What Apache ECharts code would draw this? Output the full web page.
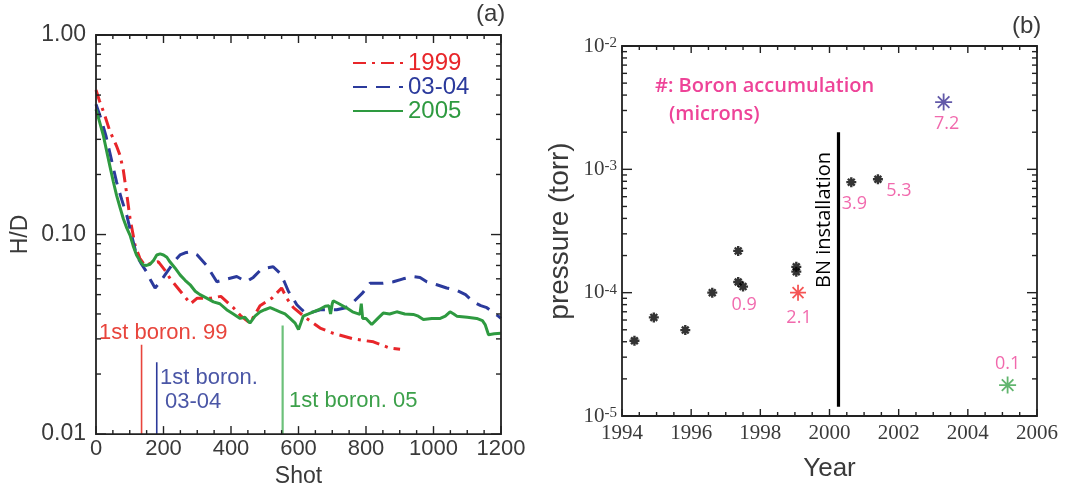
<!DOCTYPE html>
<html><head><meta charset="utf-8">
<script src="https://cdn.jsdelivr.net/npm/echarts@6/dist/echarts.min.js"></script>
<style>html,body{margin:0;padding:0;background:#fff}.c{width:1086px;height:493px}</style>
</head><body><div class="c" id="chart0"></div>
<script>
// ---------- Panel (a): H/D vs shot ----------
const shots1999 = [0,10,25,41,60,71,81,91,101,116,130,145,165,185,205,220,250,280,300,340,370,407,430,456,486,521,550,565,585,624,664,703,762,822,870,901];
const hd1999    = [0.53,0.47,0.40,0.33,0.28,0.25,0.21,0.16,0.12,0.088,0.076,0.070,0.072,0.073,0.066,0.060,0.052,0.045,0.048,0.048,0.049,0.043,0.039,0.036,0.044,0.048,0.054,0.048,0.043,0.038,0.034,0.032,0.030,0.029,0.027,0.0266];
const shots0304 = [0,15,30,45,61,76,91,105,120,135,150,162,175,190,205,219,234,249,264,279,300,328,358,390,417,446,466,486,505,525,545,558,570,583,595,610,624,644,664,690,713,740,763,790,812,850,881,910,940,960,980,1010,1039,1069,1095,1118,1140,1158,1175,1192,1200];
const hd0304    = [0.45,0.38,0.31,0.24,0.183,0.15,0.125,0.10,0.079,0.071,0.065,0.059,0.054,0.058,0.063,0.068,0.074,0.079,0.081,0.082,0.079,0.070,0.058,0.060,0.0616,0.058,0.061,0.066,0.068,0.069,0.064,0.058,0.052,0.048,0.0445,0.042,0.040,0.041,0.042,0.042,0.042,0.043,0.046,0.051,0.057,0.057,0.058,0.060,0.0616,0.061,0.058,0.056,0.054,0.0525,0.050,0.046,0.044,0.043,0.041,0.039,0.038];
const shots2005 = [0,10,22,31,41,51,61,71,81,91,101,110,120,130,140,150,160,170,180,190,200,210,219,234,249,264,279,294,308,328,348,367,387,407,427,441,456,471,486,500,516,530,545,560,575,590,600,607,614,630,644,660,679,690,695,700,703,720,743,760,782,786,790,800,817,835,851,870,891,915,940,955,970,995,1020,1035,1049,1060,1069,1100,1128,1145,1153,1163,1180,1200];
const hd2005    = [0.424,0.37,0.312,0.265,0.221,0.185,0.157,0.137,0.12,0.108,0.099,0.088,0.079,0.074,0.0703,0.070,0.071,0.074,0.079,0.080,0.079,0.077,0.073,0.068,0.0628,0.059,0.056,0.052,0.050,0.048,0.046,0.045,0.042,0.040,0.038,0.0385,0.036,0.039,0.041,0.042,0.043,0.042,0.041,0.040,0.038,0.036,0.0334,0.036,0.039,0.040,0.041,0.042,0.0437,0.044,0.040,0.045,0.0466,0.045,0.0428,0.041,0.0398,0.045,0.038,0.038,0.0354,0.038,0.0404,0.040,0.041,0.040,0.0398,0.039,0.0375,0.038,0.038,0.039,0.041,0.040,0.039,0.0385,0.038,0.037,0.0354,0.0315,0.0318,0.032];
const boronShots = [135, 180, 553];
const boronTopHD = [0.028, 0.0229, 0.035];
const seriesNames = ['1999', '03-04', '2005'];

// ---------- Panel (b): pressure vs year ----------
const blackYears = [1994.36,1994.92,1995.83,1996.61,1997.36,1997.36,1997.50,1999.04,1999.04,2000.63,2001.40];
const blackPress = [4.07e-5,6.3e-5,4.97e-5,1.0e-4,2.18e-4,1.22e-4,1.12e-4,1.62e-4,1.48e-4,7.87e-4,8.32e-4];
const blackAccum = ['','','','','','0.9','','','','3.9','5.3'];
const hlYears = [1999.09, 2003.30, 2005.15];
const hlPress = [1.0e-4, 3.51e-3, 1.78e-5];
const hlAccum = ['2.1', '7.2', '0.1'];
const bnYear = 2000.26;
const bnRange = [2.0e-3, 1.19e-5];

// ---------- styles ----------
const RED = '#e8262a', BLUE = '#2b3a9c', GREEN = '#2e9a40', PINK = '#ee4398';
const AX = '#222', TICKC = '#3a3a3a';
const FONT = 'Liberation Sans', NARROW = 'Liberation Sans Narrow', OPEN = 'Open Sans';
const labelOffsets = {'0.9':[6,23],'3.9':[3,22],'5.3':[21,12],'2.1':[1,25],'7.2':[3,22],'0.1':[0,-21]};
const hlColors = ['#f22a2a', '#3b2f92', '#3aa24a'];
const hlSizes = [16, 17, 17];
const starPath = 'path://M5,0L5,10M0,5L10,5M1.6,1.6L8.4,8.4M1.6,8.4L8.4,1.6';

function minorLog(lo, hi) { const v = []; for (let e = lo; e < hi; e++) for (let k = 2; k <= 9; k++) v.push(+(k * Math.pow(10, e)).toPrecision(3)); return v; }
function majorLog(lo, hi) { const v = []; for (let e = lo; e <= hi; e++) v.push(Math.pow(10, e)); return v; }

function xAx(grid, pos, opts) {
  return Object.assign({gridIndex: grid, type: 'value', position: pos,
    axisLine: {show: false, onZero: false}, axisTick: {show: false}, minorTick: {show: false},
    splitLine: {show: false}, minorSplitLine: {show: false}, axisLabel: {show: false}}, opts);
}
function yAx(grid, pos, lo, hi, opts) {
  return Object.assign({gridIndex: grid, type: 'log', logBase: 10, position: pos,
    min: Math.pow(10, lo), max: Math.pow(10, hi),
    axisLine: {show: false, onZero: false}, axisTick: {show: false},
    splitLine: {show: false}, axisLabel: {show: false}}, opts);
}
const lineData = (xs, ys) => xs.map((x, i) => [x, ys[i]]);

// frame + inside ticks drawn through the axes' own scales
function frameRenderer(xMin, xMax, xMajor, xMinor, lo, hi, xLen, yLen) {
  return function (params, api) {
    const yTop = Math.pow(10, hi), yBot = Math.pow(10, lo);
    const tl = api.coord([xMin, yTop]), br = api.coord([xMax, yBot]);
    const kids = [{type: 'rect', shape: {x: tl[0], y: tl[1], width: br[0] - tl[0], height: br[1] - tl[1]},
      style: {fill: 'none', stroke: AX, lineWidth: 1.8}}];
    const ln = (x1, y1, x2, y2) => kids.push({type: 'line', shape: {x1, y1, x2, y2}, style: {stroke: AX, lineWidth: 1.4}});
    const n = Math.round((xMax - xMin) / xMinor);
    for (let i = 0; i <= n; i++) {
      const v = xMin + i * xMinor;
      const px = api.coord([v, yBot])[0];
      const L = (Math.abs((v - xMin) / xMajor - Math.round((v - xMin) / xMajor)) < 1e-6) ? xLen[0] : xLen[1];
      ln(px, br[1], px, br[1] - L); ln(px, tl[1], px, tl[1] + L);
    }
    majorLog(lo, hi).forEach(v => { const py = api.coord([xMin, v])[1]; ln(tl[0], py, tl[0] + yLen[0], py); ln(br[0], py, br[0] - yLen[0], py); });
    minorLog(lo, hi).forEach(v => { const py = api.coord([xMin, v])[1]; ln(tl[0], py, tl[0] + yLen[1], py); ln(br[0], py, br[0] - yLen[1], py); });
    return {type: 'group', children: kids};
  };
}

const opt = {
  animation: false,
  grid: [
    {left: 96, top: 35, width: 405, height: 403},
    {left: 622, top: 46, width: 415, height: 370}
  ],
  xAxis: [
    xAx(0, 'bottom', {min: 0, max: 1200, interval: 200, name: 'Shot', nameLocation: 'middle', nameGap: 29,
      nameTextStyle: {fontFamily: FONT, fontSize: 23, color: TICKC},
      axisLabel: {show: true, margin: 4, fontFamily: FONT, fontSize: 22, color: TICKC, formatter: v => String(v)}}),
    xAx(1, 'bottom', {min: 1994, max: 2006, interval: 2, name: 'Year', nameLocation: 'middle', nameGap: 40,
      nameTextStyle: {fontFamily: FONT, fontSize: 26, color: TICKC},
      axisLabel: {show: true, margin: 7, fontFamily: NARROW, fontSize: 21, color: TICKC, formatter: v => String(v)}})
  ],
  yAxis: [
    yAx(0, 'left', -2, 0, {name: 'H/D', nameLocation: 'middle', nameGap: 64, nameRotate: 90,
      nameTextStyle: {fontFamily: FONT, fontSize: 23, color: TICKC},
      axisLabel: {show: true, margin: 10, fontFamily: FONT, fontSize: 23, color: TICKC, formatter: v => v.toFixed(2)}}),
    yAx(1, 'left', -5, -2, {name: 'pressure (torr)', nameLocation: 'middle', nameGap: 48, nameRotate: 90,
      nameTextStyle: {fontFamily: FONT, fontSize: 28, color: TICKC},
      axisLabel: {show: true, margin: 5, color: TICKC, formatter: v => '{b|10}{s|' + Math.round(Math.log10(v)) + '}',
        rich: {b: {fontFamily: NARROW, fontSize: 21, color: TICKC}, s: {fontFamily: NARROW, fontSize: 15, color: TICKC, verticalAlign: 'top'}}}})
  ],
  legend: {orient: 'vertical', left: 347, top: 46, itemWidth: 50, itemHeight: 14, itemGap: 0, itemStyle: {opacity: 0},
    textStyle: {fontFamily: FONT, fontSize: 24, lineHeight: 23},
    data: [{name: seriesNames[0], textStyle: {color: RED}}, {name: seriesNames[1], textStyle: {color: BLUE}}, {name: seriesNames[2], textStyle: {color: GREEN}}]},
  series: [
    {type: 'custom', xAxisIndex: 0, yAxisIndex: 0, silent: true, clip: false, z: 10,
     renderItem: frameRenderer(0, 1200, 200, 50, -2, 0, [8, 4], [10, 5]), data: [[0, 0.1]]},
    {type: 'custom', xAxisIndex: 1, yAxisIndex: 1, silent: true, clip: false, z: 10,
     renderItem: frameRenderer(1994, 2006, 2, 0.5, -5, -2, [7, 4], [10, 5]), data: [[2000, 1e-3]]},
    {name: seriesNames[0], type: 'line', xAxisIndex: 0, yAxisIndex: 0, symbol: 'none', z: 3,
     lineStyle: {color: RED, width: 3, type: [13, 6, 3, 6]}, itemStyle: {color: RED}, data: lineData(shots1999, hd1999)},
    {name: seriesNames[1], type: 'line', xAxisIndex: 0, yAxisIndex: 0, symbol: 'none', z: 3,
     lineStyle: {color: BLUE, width: 3, type: [14, 9]}, itemStyle: {color: BLUE}, data: lineData(shots0304, hd0304)},
    {name: seriesNames[2], type: 'line', xAxisIndex: 0, yAxisIndex: 0, symbol: 'none', z: 4,
     lineStyle: {color: GREEN, width: 3}, itemStyle: {color: GREEN}, data: lineData(shots2005, hd2005)},
    {type: 'line', xAxisIndex: 0, yAxisIndex: 0, symbol: 'none', silent: true, lineStyle: {color: '#e8453c', width: 1.6}, data: [[boronShots[0], boronTopHD[0]], [boronShots[0], 0.01]]},
    {type: 'line', xAxisIndex: 0, yAxisIndex: 0, symbol: 'none', silent: true, lineStyle: {color: '#2c3a9a', width: 1.6}, data: [[boronShots[1], boronTopHD[1]], [boronShots[1], 0.01]]},
    {type: 'line', xAxisIndex: 0, yAxisIndex: 0, symbol: 'none', silent: true, lineStyle: {color: '#6cc07a', width: 2.2}, data: [[boronShots[2], boronTopHD[2]], [boronShots[2], 0.01]]},
    {type: 'line', xAxisIndex: 1, yAxisIndex: 1, symbol: 'none', silent: true, lineStyle: {color: '#000', width: 3.2}, data: [[bnYear, bnRange[0]], [bnYear, bnRange[1]]]},
    {type: 'scatter', xAxisIndex: 1, yAxisIndex: 1, symbol: starPath, symbolSize: 10, z: 5,
     itemStyle: {color: 'rgba(0,0,0,0)', borderColor: '#000', borderWidth: 2.4},
     label: {show: false, position: 'inside', color: PINK, fontFamily: OPEN, fontSize: 18},
     data: blackYears.map((y, i) => blackAccum[i]
       ? {value: [y, blackPress[i]], label: {show: true, formatter: blackAccum[i], offset: labelOffsets[blackAccum[i]]}}
       : [y, blackPress[i]])},
    {type: 'scatter', xAxisIndex: 1, yAxisIndex: 1, symbol: starPath, symbolSize: 16, z: 5,
     label: {show: true, position: 'inside', color: PINK, fontFamily: OPEN, fontSize: 18},
     data: hlYears.map((y, i) => ({value: [y, hlPress[i]], symbolSize: hlSizes[i],
       itemStyle: {color: 'rgba(0,0,0,0)', borderColor: hlColors[i], borderWidth: 1.8},
       label: {formatter: hlAccum[i], offset: labelOffsets[hlAccum[i]]}}))}
  ],
  graphic: [
    {type: 'text', left: 476, top: 2, style: {text: '(a)', fontFamily: FONT, fontSize: 24, fill: TICKC}},
    {type: 'text', left: 1012, top: 14, style: {text: '(b)', fontFamily: FONT, fontSize: 24, fill: TICKC}},
    {type: 'text', left: 99, top: 322, style: {text: '1st boron. 99', fontFamily: FONT, fontSize: 22, fill: '#e8453c'}},
    {type: 'text', left: 160, top: 367, style: {text: '1st boron.', fontFamily: FONT, fontSize: 22, fill: '#4a56a6'}},
    {type: 'text', left: 165, top: 391, style: {text: '03-04', fontFamily: FONT, fontSize: 22, fill: '#4a56a6'}},
    {type: 'text', left: 289, top: 390, style: {text: '1st boron. 05', fontFamily: FONT, fontSize: 22, fill: '#3ca04a'}},
    {type: 'text', left: 655, top: 76, style: {text: '#: Boron accumulation', fontFamily: OPEN, fontWeight: 600, fontSize: 20, fill: PINK}},
    {type: 'text', left: 669, top: 104, style: {text: '(microns)', fontFamily: OPEN, fontWeight: 600, fontSize: 20, fill: PINK}},
    {type: 'text', left: 814, top: 152, style: {text: 'BN installation', fontFamily: OPEN, fontSize: 20, fill: '#000'}, rotation: Math.PI / 2, originX: 0, originY: 0}
  ]
};
echarts.init(document.getElementById('chart0')).setOption(opt);
</script></body></html>
